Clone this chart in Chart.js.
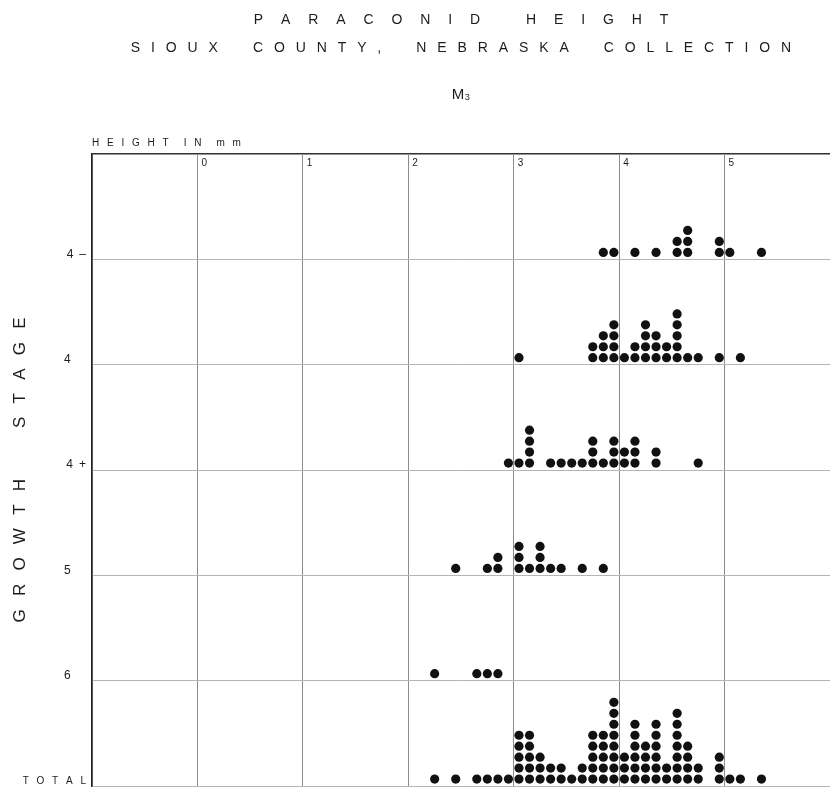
<!DOCTYPE html>
<html>
<head>
<meta charset="utf-8">
<title>Paraconid height – Sioux County, Nebraska collection</title>
<script src="https://cdn.jsdelivr.net/npm/chart.js@4.4.1/dist/chart.umd.min.js"></script>
<style>
  html, body { margin: 0; padding: 0; background: #fff; }
  #wrap { width: 830px; height: 787px; }
</style>
</head>
<body>
<div id="wrap"><canvas id="paraconidChart"></canvas></div>
<script>
// --- data ---
// growth stages, top row to bottom row
const stageLabels = ['4–', '4', '4+', '5', '6', 'TOTAL'];
const heightTicks = ['0', '1', '2', '3', '4', '5'];

// paraconid height class (mm, 0.1 mm classes) and number of specimens in it
const stage4minusHeights = [3.8, 3.9, 4.1, 4.3, 4.5, 4.6, 4.9, 5.0, 5.3];
const stage4minusCounts  = [1, 1, 1, 1, 2, 3, 2, 1, 1];

const stage4Heights = [3.0, 3.7, 3.8, 3.9, 4.0, 4.1, 4.2, 4.3, 4.4, 4.5, 4.6, 4.7, 4.9, 5.1];
const stage4Counts  = [1, 2, 3, 4, 1, 2, 4, 3, 2, 5, 1, 1, 1, 1];

const stage4plusHeights = [2.9, 3.0, 3.1, 3.3, 3.4, 3.5, 3.6, 3.7, 3.8, 3.9, 4.0, 4.1, 4.3, 4.7];
const stage4plusCounts  = [1, 1, 4, 1, 1, 1, 1, 3, 1, 3, 2, 3, 2, 1];

const stage5Heights = [2.4, 2.7, 2.8, 3.0, 3.1, 3.2, 3.3, 3.4, 3.6, 3.8];
const stage5Counts  = [1, 1, 2, 3, 1, 3, 1, 1, 1, 1];

const stage6Heights = [2.2, 2.6, 2.7, 2.8];
const stage6Counts  = [1, 1, 1, 1];

const totalHeights = [2.2, 2.4, 2.6, 2.7, 2.8, 2.9, 3.0, 3.1, 3.2, 3.3, 3.4, 3.5, 3.6, 3.7,
                      3.8, 3.9, 4.0, 4.1, 4.2, 4.3, 4.4, 4.5, 4.6, 4.7, 4.9, 5.0, 5.1, 5.3];
const totalCounts  = [1, 1, 1, 1, 1, 1, 5, 5, 3, 2, 2, 1, 2, 5,
                      5, 8, 3, 6, 4, 6, 2, 7, 4, 2, 3, 1, 1, 1];

// --- drawing helpers ---
const FONT = "'Liberation Sans', Arial, Helvetica, sans-serif";
const INK = '#1c1c1c';
const CLASS_WIDTH = 0.1;   // dots sit in the middle of their 0.1 mm class
const DOT_LIFT = 0.066;    // first dot just above the row line (row units)
const DOT_STEP = 0.104;    // one dot stacked on the next

// letter-spaced lettering like the drafted original
const spread = (text, gap, wordGap) =>
  text.split(' ').map(w => w.split('').join(gap)).join(wordGap);

function dotStack(heights, counts, base) {
  const pts = [];
  heights.forEach((h, i) => {
    for (let k = 0; k < counts[i]; k++) {
      pts.push({ x: h + CLASS_WIDTH / 2, y: base + DOT_LIFT + k * DOT_STEP });
    }
  });
  return pts;
}

const rows = [
  [stage4minusHeights, stage4minusCounts],
  [stage4Heights, stage4Counts],
  [stage4plusHeights, stage4plusCounts],
  [stage5Heights, stage5Counts],
  [stage6Heights, stage6Counts],
  [totalHeights, totalCounts]
];

const datasets = rows.map(([h, c], i) => ({
  label: stageLabels[i],
  data: dotStack(h, c, stageLabels.length - 1 - i),
  pointRadius: 4.6,
  pointBackgroundColor: '#111',
  pointBorderWidth: 0,
  showLine: false
}));

function stageTick(v) {
  if (v < 0 || v >= stageLabels.length) return '';
  const label = stageLabels[stageLabels.length - 1 - v];
  if (label === 'TOTAL') return spread(label, '\u2002 ', '');
  if (label.length === 1) return label + '\u2003 ';
  return label[0] + '\u2002' + label.slice(1);
}

Chart.defaults.font.family = FONT;
Chart.defaults.color = INK;

new Chart(document.getElementById('paraconidChart'), {
  type: 'scatter',
  data: { datasets },
  options: {
    responsive: true, maintainAspectRatio: false,
    animation: false, events: [],
    layout: { autoPadding: false, padding: { top: 0, left: 0, right: 0, bottom: 1 } },
    plugins: {
      legend: { display: false },
      tooltip: { enabled: false },
      title: {
        display: true, fullSize: false, color: INK,
        text: [
          spread('PARACONID HEIGHT', '\u2003 ', '\u2003\u2003\u2003 '),
          spread('SIOUX COUNTY, NEBRASKA COLLECTION', '\u2002 ', '\u2003\u2003\u2002')
        ],
        font: { size: 14, weight: 'normal', lineHeight: 2 },
        padding: { top: 6, bottom: 0 }
      },
      subtitle: {
        display: true, fullSize: false, color: INK,
        text: 'M₃',
        font: { size: 15, lineHeight: 1.2 },
        padding: { top: 24, bottom: 0 }
      }
    },
    scales: {
      x: {
        type: 'linear', position: 'top', min: -1, max: 6,
        grid: { color: '#8c8c8c', lineWidth: 1, drawTicks: false },
        border: { color: '#333', width: 1.2 },
        ticks: {
          stepSize: 1, autoSkip: false, maxRotation: 0,
          mirror: true, align: 'start', labelOffset: 4, padding: 3,
          font: { size: 10 },
          callback: v => (v >= 0 && v < heightTicks.length) ? heightTicks[v] : ''
        },
        title: {
          display: true, align: 'start',
          text: spread('HEIGHT IN mm', '\u2002 ', '\u2003\u2002'),
          font: { size: 10 },
          padding: { top: 33, bottom: 0 }
        },
        afterFit: s => { s.height = 50; s.paddingLeft = 0; s.paddingRight = 0; }
      },
      y: {
        type: 'linear', min: 0, max: 6,
        grid: { color: '#b4b4b4', lineWidth: 1, drawTicks: false },
        border: { color: '#222', width: 1.5 },
        ticks: {
          stepSize: 1, autoSkip: false, padding: 6, labelOffset: -5,
          font: ctx => ({ size: ctx.tick && ctx.tick.value === 0 ? 10 : 12 }),
          callback: stageTick
        },
        title: {
          display: true,
          text: spread('GROWTH STAGE', '\u2002 ', '\u2003\u2003\u2003'),
          font: { size: 17 },
          padding: { top: 10, bottom: 0 }
        },
        afterFit: s => { s.width = 92; s.paddingTop = 0; s.paddingBottom = 0; }
      }
    }
  }
});
</script>
</body>
</html>
